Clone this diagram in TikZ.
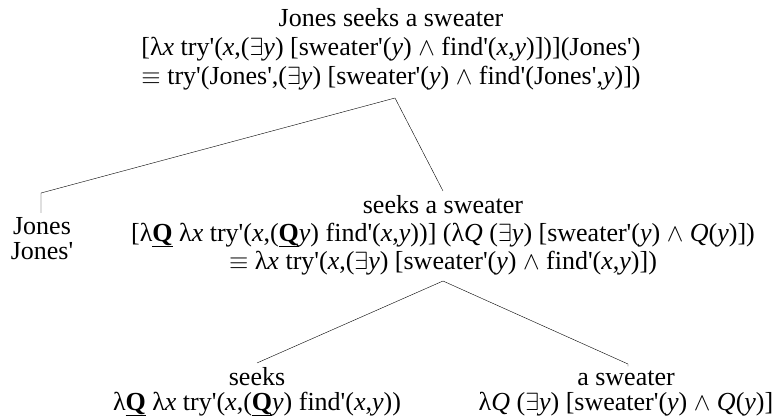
\documentclass[tikz,border=0pt]{standalone}
\usepackage{fontspec}
\setmainfont{Liberation Serif}
\newcommand{\iv}[1]{\textit{#1}}
\newcommand{\ap}{\textquotesingle}
\newcommand{\qq}{\underline{\textbf{Q}}}
\tikzset{
  tnode/.style={align=center, inner sep=0pt, outer sep=4pt, anchor=base,
    font=\fontsize{26}{29}\selectfont},
  leaf/.style={tnode, font=\fontsize{26}{25}\selectfont},
}
\begin{document}
\begin{tikzpicture}[x=1pt,y=-1pt]
    \useasboundingbox (0,0) rectangle (782,416);

    % Knoten (at = Grundlinie der letzten Zeile)
    \node[tnode] (top) at (391,84) {Jones seeks a sweater\\
      {}[λ\iv{x} try\ap(\iv{x},($\exists$\iv{y}) [sweater\ap(\iv{y}) $\wedge$ find\ap(\iv{x},\iv{y})])](Jones\ap)\\
      $\equiv$ try\ap(Jones\ap,($\exists$\iv{y}) [sweater\ap(\iv{y}) $\wedge$ find\ap(Jones\ap,\iv{y})])};
    \node[leaf] (jones) at (42,259) {Jones\\ Jones\ap};
    \node[tnode, font=\fontsize{26}{28}\selectfont] (mid) at (443,269) {seeks a sweater\\
      {}[λ\qq\ λ\iv{x} try\ap(\iv{x},(\qq\iv{y}) find\ap(\iv{x},\iv{y}))] (λ\iv{Q} ($\exists$\iv{y}) [sweater\ap(\iv{y}) $\wedge$ \iv{Q}(\iv{y})])\\
      $\equiv$ λ\iv{x} try\ap(\iv{x},($\exists$\iv{y}) [sweater\ap(\iv{y}) $\wedge$ find\ap(\iv{x},\iv{y})])};
    \node[leaf] (seeks) at (257,410) {seeks\\
      λ\qq\ λ\iv{x} try\ap(\iv{x},(\qq\iv{y}) find\ap(\iv{x},\iv{y}))};
    \node[leaf] (asw) at (626,410) {a sweater\\
      λ\iv{Q} ($\exists$\iv{y}) [sweater\ap(\iv{y}) $\wedge$ \iv{Q}(\iv{y})]};

    % Verzweigungen
    \coordinate (ta) at (395,98);
    \coordinate (ma) at (443,281);
    \coordinate (jk) at (41,193);
    \coordinate (ak) at (628,364);

    % Kanten
    \draw (ta) -- (jk) -- (jk |- jones.north);
    \draw (ta) -- (mid.north);
    \draw (ma) -- (seeks.north);
    \draw (ma) -- (ak) -- (ak |- asw.north);
\end{tikzpicture}
\end{document}
